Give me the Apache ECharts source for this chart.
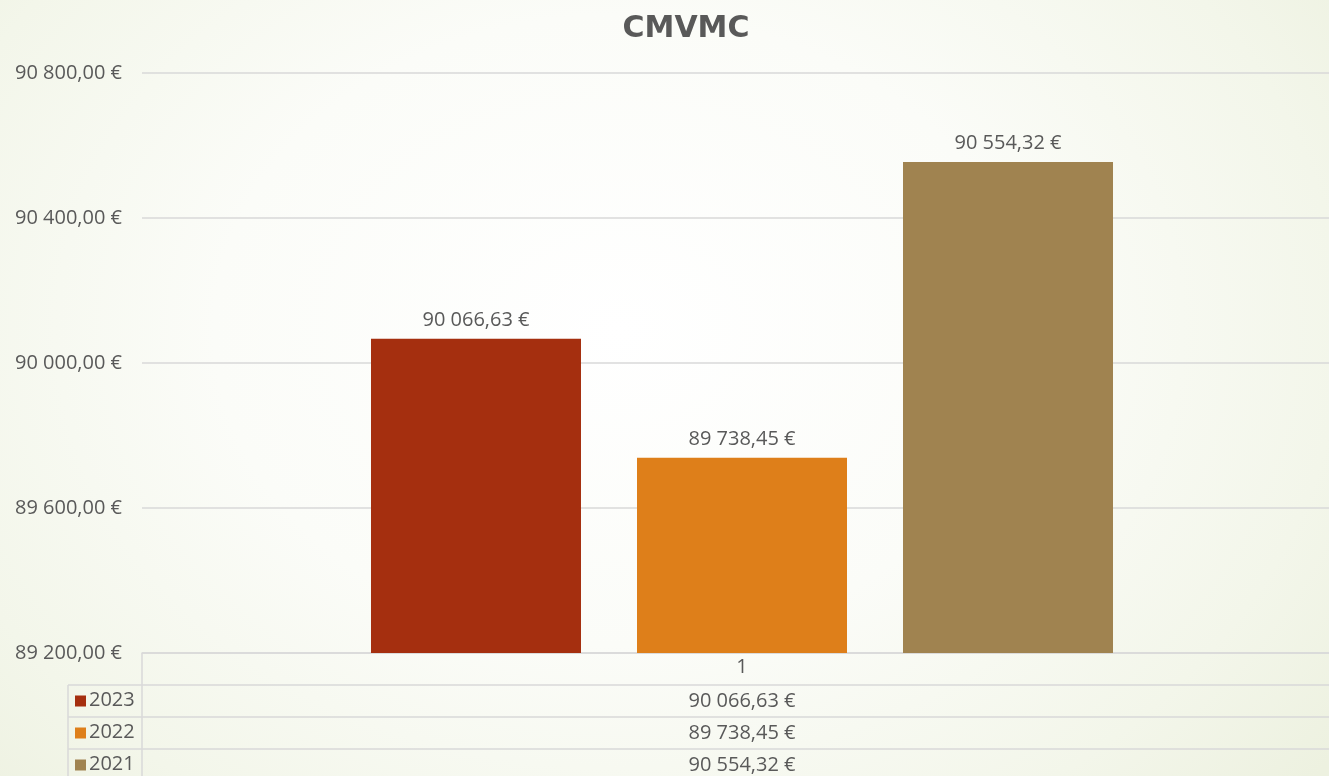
<!DOCTYPE html>
<html>
<head>
<meta charset="utf-8">
<script src="https://cdn.jsdelivr.net/npm/echarts@6/dist/echarts.min.js"></script>
<style>
  html, body { margin: 0; padding: 0; width: 1329px; height: 776px; overflow: hidden; }
  body { background: radial-gradient(ellipse 900px 700px at 620px 330px, #ffffff 0%, #fbfcf8 45%, #f3f6ea 80%, #edf1e0 100%); }
  #chart { width: 1329px; height: 776px; }
</style>
</head>
<body>
<div id="chart"></div>
<script>
// ---- data ----
const title = 'CMVMC';
const categories = ['1'];
const seriesNames = ['2023', '2022', '2021'];
const values2023 = [90066.63];
const values2022 = [89738.45];
const values2021 = [90554.32];
const yTicks = [89200, 89600, 90000, 90400, 90800];
const colors = ['#A52F0F', '#DE7F1A', '#A08350'];

const seriesValues = [values2023, values2022, values2021];

function fmtEuro(v) {
  const fixed = Math.abs(v).toFixed(2);
  let [intPart, dec] = fixed.split('.');
  intPart = intPart.replace(/\B(?=(\d{3})+(?!\d))/g, ' ');
  return (v < 0 ? '-' : '') + intPart + ',' + dec + ' €';
}

const textColor = '#595959';
const lineColor = '#d9d9d9';
const fontFamily = '"Open Sans", Lato, sans-serif';
const fw = 400;
const fs = 20;

const gridLeft = 142, gridTop = 73, gridBottomY = 653, gridWidth = 1200;
const rowH = 32;
const tableLeft = 68, tableRight = 1329;

const chart = echarts.init(document.getElementById('chart'), null, { renderer: 'canvas' });

const graphics = [];
graphics.push({ type: 'line', shape: { x1: gridLeft, y1: gridBottomY, x2: gridLeft, y2: 776 }, style: { stroke: lineColor, lineWidth: 1.5 }, silent: true });
graphics.push({ type: 'line', shape: { x1: tableLeft, y1: gridBottomY + rowH, x2: tableLeft, y2: 776 }, style: { stroke: lineColor, lineWidth: 1.5 }, silent: true });
for (let i = 1; i <= seriesNames.length; i++) {
  const y = gridBottomY + rowH * i;
  graphics.push({ type: 'line', shape: { x1: tableLeft, y1: y, x2: tableRight, y2: y }, style: { stroke: lineColor, lineWidth: 1.5 }, silent: true });
}
const centerX = gridLeft + gridWidth / 2;
seriesNames.forEach((name, i) => {
  const yc = gridBottomY + rowH * (i + 1) + rowH / 2;
  graphics.push({ type: 'rect', shape: { x: 75, y: yc - 5.5, width: 11, height: 11 }, style: { fill: colors[i] }, silent: true });
  graphics.push({ type: 'text', x: 89, y: yc - 1, style: { text: name, fill: textColor, font: fw + ' ' + fs + 'px ' + fontFamily, textAlign: 'left', textVerticalAlign: 'middle' }, silent: true });
  graphics.push({ type: 'text', x: centerX, y: yc, style: { text: fmtEuro(seriesValues[i][0]), fill: textColor, font: fw + ' ' + fs + 'px ' + fontFamily, textAlign: 'center', textVerticalAlign: 'middle' }, silent: true });
});

const option = {
  backgroundColor: 'transparent',
  animation: false,
  title: {
    text: title,
    left: 681, top: 9,
    textAlign: 'center',
    textStyle: { color: textColor, fontSize: 30, fontWeight: 'bold', fontFamily: '"DejaVu Sans", sans-serif' }
  },
  grid: { left: gridLeft, top: gridTop, width: gridWidth, height: gridBottomY - gridTop, containLabel: false, outerBoundsMode: 'none' },
  xAxis: {
    type: 'category',
    data: categories,
    axisLine: { show: true, lineStyle: { color: lineColor, width: 1.5 } },
    axisTick: { show: false },
    axisLabel: { color: textColor, fontSize: fs, fontFamily: fontFamily, fontWeight: fw, margin: 4 }
  },
  yAxis: {
    type: 'value',
    min: yTicks[0],
    max: yTicks[yTicks.length - 1],
    interval: yTicks[1] - yTicks[0],
    axisLine: { show: false },
    axisTick: { show: false },
    splitLine: { lineStyle: { color: lineColor, width: 1.5 } },
    axisLabel: { color: textColor, fontSize: fs, fontFamily: fontFamily, fontWeight: fw, margin: 20, formatter: v => fmtEuro(v) }
  },
  series: seriesNames.map((name, i) => ({
    name: name,
    type: 'bar',
    data: seriesValues[i],
    barWidth: 210,
    barGap: '26.67%',
    itemStyle: { color: colors[i] },
    label: {
      show: true,
      position: 'top',
      distance: 9,
      color: textColor,
      fontSize: fs,
      fontFamily: fontFamily,
      fontWeight: fw,
      formatter: p => fmtEuro(p.value)
    }
  })),
  graphic: graphics
};

chart.setOption(option);
</script>
</body>
</html>
